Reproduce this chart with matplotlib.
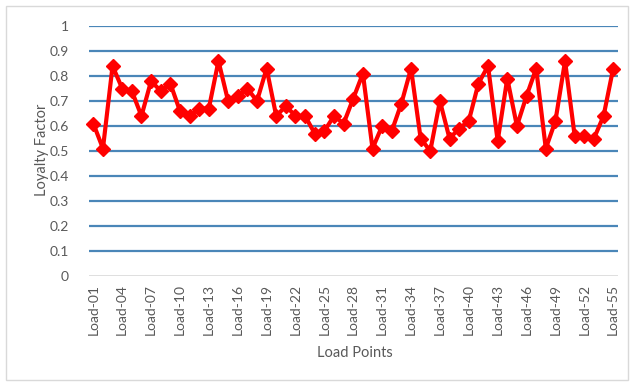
import matplotlib.pyplot as plt
from matplotlib.patches import Rectangle

# loyalty factor per load point
loads = ['Load-%02d' % i for i in range(1, 56)]
loyalty = [0.61, 0.51, 0.84, 0.75, 0.74, 0.64, 0.78, 0.74, 0.77, 0.66,
           0.64, 0.67, 0.67, 0.86, 0.70, 0.72, 0.75, 0.70, 0.83, 0.64,
           0.68, 0.64, 0.64, 0.57, 0.58, 0.64, 0.61, 0.71, 0.81, 0.51,
           0.60, 0.58, 0.69, 0.83, 0.55, 0.50, 0.70, 0.55, 0.59, 0.62,
           0.77, 0.84, 0.54, 0.79, 0.60, 0.72, 0.83, 0.51, 0.62, 0.86,
           0.56, 0.56, 0.55, 0.64, 0.83]
yticks = [0, 0.1, 0.2, 0.3, 0.4, 0.5, 0.6, 0.7, 0.8, 0.9, 1]
ylabels = ['0', '0.1', '0.2', '0.3', '0.4', '0.5', '0.6', '0.7', '0.8', '0.9', '1']

plt.rcParams['font.family'] = ['Lato', 'DejaVu Sans']
W, H = 631, 382
fig = plt.figure(figsize=(W / 100, H / 100), dpi=100)
fig.patch.set_facecolor('white')

# outer chart frame
fig.patches.append(Rectangle((6 / W, 2 / H), 622 / W, 374 / H, transform=fig.transFigure,
                             fill=False, edgecolor='#d9d9d9', linewidth=1))

ax = fig.add_axes([88.5 / W, (H - 276) / H, (618 - 88.5) / W, 250 / H])
x = list(range(1, len(loyalty) + 1))

for t in yticks[1:]:
    ax.axhline(t, color='#4a86b8', linewidth=1.6, zorder=1)
ax.axhline(0, color='#d9d9d9', linewidth=1.2, zorder=1)

ax.plot(x, loyalty, color='#ff0000', linewidth=3, marker='D', markersize=7,
        markerfacecolor='#ff0000', markeredgecolor='#ff0000', zorder=3, clip_on=False)

ax.set_xlim(0.5, len(loyalty) + 0.5)
ax.set_ylim(0, 1)
ax.set_yticks(yticks)
ax.set_yticklabels(ylabels, color='#595959', fontsize=10)
ax.set_xticks(x[::3])
ax.set_xticklabels(loads[::3], rotation=90, color='#595959', fontsize=10)
ax.tick_params(length=0, pad=6)
ax.tick_params(axis='y', pad=14)
for s in ax.spines.values():
    s.set_visible(False)

fig.text(42 / W, 1 - 150 / H, 'Loyalty Factor', rotation=90, ha='center', va='center',
         color='#595959', fontsize=10.5)
fig.text(355 / W, 1 - 353 / H, 'Load Points', ha='center', va='center',
         color='#595959', fontsize=10.5)

fig.savefig('out.png', dpi=100)
